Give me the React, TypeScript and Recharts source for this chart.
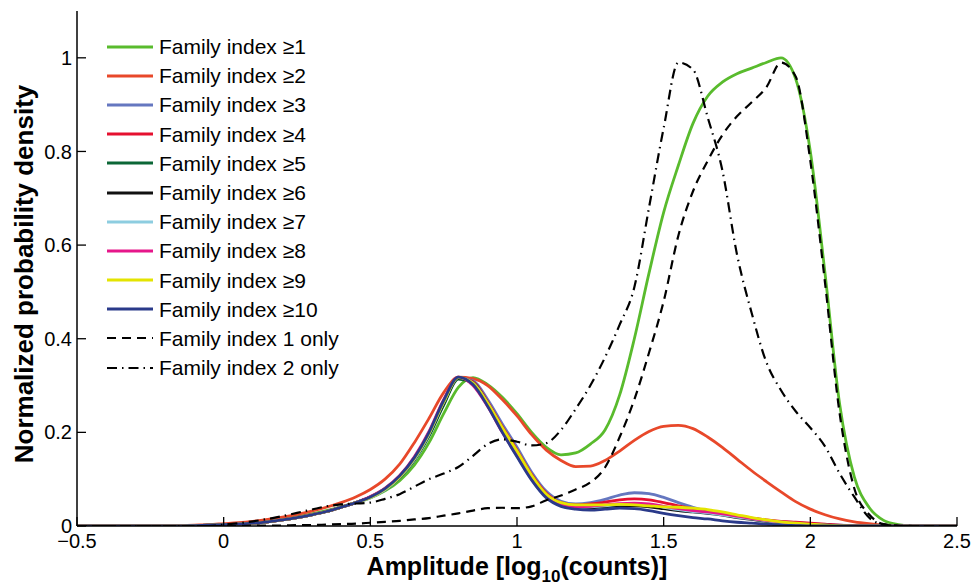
import { LineChart, Line, XAxis, YAxis, Legend } from 'recharts'

const FONT = '"Liberation Sans", Arial, Helvetica, sans-serif'

// amplitude grid, log10(counts)
const amplitude = [
  -0.5, -0.45, -0.4, -0.35, -0.3, -0.25, -0.2, -0.15, -0.1, -0.05,
  0, 0.05, 0.1, 0.15, 0.2, 0.25, 0.3, 0.35, 0.4, 0.45,
  0.5, 0.55, 0.6, 0.65, 0.7, 0.75, 0.8, 0.85, 0.9, 0.95,
  1.0, 1.05, 1.1, 1.15, 1.2, 1.25, 1.3, 1.35, 1.4, 1.45,
  1.5, 1.55, 1.6, 1.65, 1.7, 1.75, 1.8, 1.85, 1.9, 1.95,
  2.0, 2.05, 2.1, 2.15, 2.2, 2.25, 2.3, 2.35, 2.4, 2.45,
  2.5,
]

const fam1 = [
  0, 0, 0, 0, 0, 0, 0, 0, 0.001, 0.002,
  0.003, 0.005, 0.008, 0.011, 0.015, 0.02, 0.026, 0.033, 0.041, 0.05,
  0.06, 0.075, 0.097, 0.13, 0.178, 0.24, 0.296, 0.317, 0.302, 0.275,
  0.24, 0.2, 0.168, 0.152, 0.156, 0.175, 0.205, 0.28, 0.4, 0.54,
  0.67, 0.77, 0.86, 0.918, 0.948, 0.966, 0.978, 0.99, 1.0, 0.955,
  0.8, 0.54, 0.26, 0.105, 0.04, 0.012, 0.003, 0, 0, 0,
  0,
]
const fam2 = [
  0, 0, 0, 0, 0, 0, 0, 0.001, 0.002, 0.003,
  0.005, 0.007, 0.01, 0.014, 0.019, 0.025, 0.032, 0.04, 0.05, 0.062,
  0.078, 0.1, 0.132, 0.178, 0.23, 0.285, 0.318, 0.315, 0.3, 0.27,
  0.235, 0.195, 0.162, 0.14, 0.127, 0.128, 0.14, 0.16, 0.183, 0.202,
  0.213, 0.215, 0.208, 0.19, 0.168, 0.143, 0.118, 0.095, 0.073, 0.052,
  0.036, 0.024, 0.015, 0.009, 0.005, 0.002, 0.001, 0, 0, 0,
  0,
]
const fam3 = [
  0, 0, 0, 0, 0, 0, 0, 0, 0.001, 0.002,
  0.003, 0.004, 0.006, 0.009, 0.013, 0.018, 0.024, 0.031, 0.04, 0.05,
  0.062, 0.08, 0.106, 0.143, 0.195, 0.26, 0.315, 0.31, 0.27, 0.218,
  0.168, 0.115, 0.074, 0.053, 0.047, 0.05, 0.057, 0.066, 0.071, 0.069,
  0.061, 0.05, 0.04, 0.032, 0.026, 0.021, 0.016, 0.012, 0.009, 0.007,
  0.005, 0.003, 0.002, 0.001, 0, 0, 0, 0, 0, 0,
  0,
]
const fam4 = [
  0, 0, 0, 0, 0, 0, 0, 0, 0.001, 0.002,
  0.003, 0.004, 0.006, 0.009, 0.013, 0.018, 0.024, 0.031, 0.04, 0.05,
  0.062, 0.079, 0.105, 0.142, 0.195, 0.262, 0.316, 0.308, 0.265, 0.212,
  0.162, 0.11, 0.07, 0.05, 0.045, 0.047, 0.051, 0.056, 0.058, 0.056,
  0.05, 0.043, 0.037, 0.031, 0.026, 0.021, 0.017, 0.013, 0.01, 0.008,
  0.006, 0.004, 0.002, 0.001, 0, 0, 0, 0, 0, 0,
  0,
]
const fam5 = [
  0, 0, 0, 0, 0, 0, 0, 0, 0.001, 0.002,
  0.003, 0.004, 0.006, 0.009, 0.013, 0.018, 0.024, 0.031, 0.04, 0.05,
  0.062, 0.078, 0.103, 0.14, 0.192, 0.258, 0.314, 0.306, 0.262, 0.208,
  0.158, 0.106, 0.066, 0.046, 0.04, 0.04, 0.042, 0.045, 0.046, 0.044,
  0.04, 0.036, 0.033, 0.03, 0.026, 0.021, 0.016, 0.012, 0.008, 0.005,
  0.003, 0.002, 0.001, 0, 0, 0, 0, 0, 0, 0,
  0,
]
const fam6 = [
  0, 0, 0, 0, 0, 0, 0, 0, 0.001, 0.002,
  0.003, 0.004, 0.006, 0.009, 0.013, 0.018, 0.024, 0.031, 0.04, 0.05,
  0.061, 0.078, 0.104, 0.142, 0.195, 0.262, 0.316, 0.305, 0.26, 0.205,
  0.156, 0.104, 0.064, 0.045, 0.039, 0.039, 0.041, 0.043, 0.043, 0.041,
  0.037, 0.033, 0.03, 0.027, 0.023, 0.018, 0.014, 0.01, 0.007, 0.005,
  0.003, 0.002, 0.001, 0, 0, 0, 0, 0, 0, 0,
  0,
]
const fam7 = [
  0, 0, 0, 0, 0, 0, 0, 0, 0.001, 0.002,
  0.003, 0.004, 0.006, 0.009, 0.013, 0.018, 0.024, 0.031, 0.04, 0.05,
  0.06, 0.077, 0.104, 0.142, 0.196, 0.264, 0.317, 0.305, 0.262, 0.207,
  0.157, 0.105, 0.065, 0.046, 0.04, 0.041, 0.043, 0.046, 0.047, 0.045,
  0.04, 0.035, 0.031, 0.028, 0.024, 0.019, 0.015, 0.011, 0.008, 0.005,
  0.003, 0.002, 0.001, 0, 0, 0, 0, 0, 0, 0,
  0,
]
const fam8 = [
  0, 0, 0, 0, 0, 0, 0, 0, 0.001, 0.002,
  0.003, 0.004, 0.006, 0.009, 0.013, 0.018, 0.024, 0.031, 0.04, 0.05,
  0.063, 0.081, 0.108, 0.148, 0.202, 0.27, 0.318, 0.3, 0.255, 0.2,
  0.15, 0.1, 0.063, 0.046, 0.041, 0.042, 0.045, 0.048, 0.049, 0.047,
  0.042, 0.037, 0.033, 0.03, 0.026, 0.021, 0.016, 0.012, 0.009, 0.006,
  0.004, 0.002, 0.001, 0, 0, 0, 0, 0, 0, 0,
  0,
]
const fam9 = [
  0, 0, 0, 0, 0, 0, 0, 0, 0.001, 0.002,
  0.003, 0.004, 0.006, 0.009, 0.013, 0.018, 0.024, 0.031, 0.04, 0.05,
  0.061, 0.079, 0.105, 0.144, 0.198, 0.265, 0.317, 0.305, 0.262, 0.21,
  0.16, 0.108, 0.068, 0.05, 0.045, 0.045, 0.045, 0.046, 0.045, 0.043,
  0.041, 0.04, 0.038, 0.035, 0.03, 0.024, 0.018, 0.013, 0.009, 0.006,
  0.004, 0.002, 0.001, 0, 0, 0, 0, 0, 0, 0,
  0,
]
const fam10 = [
  0, 0, 0, 0, 0, 0, 0, 0, 0.001, 0.002,
  0.003, 0.004, 0.006, 0.009, 0.013, 0.018, 0.024, 0.031, 0.04, 0.05,
  0.062, 0.08, 0.107, 0.146, 0.2, 0.268, 0.318, 0.302, 0.256, 0.2,
  0.148, 0.098, 0.06, 0.042, 0.036, 0.034, 0.036, 0.038, 0.037, 0.033,
  0.027, 0.022, 0.018, 0.015, 0.011, 0.008, 0.006, 0.004, 0.002, 0.001,
  0, 0, 0, 0, 0, 0, 0, 0, 0, 0,
  0,
]
const only1 = [
  0, 0, 0, 0, 0, 0, 0, 0, 0, 0,
  0, 0, 0.001, 0.001, 0.001, 0.002, 0.002, 0.003, 0.004, 0.005,
  0.007, 0.009, 0.011, 0.014, 0.017, 0.022, 0.027, 0.033, 0.038, 0.039,
  0.038, 0.042, 0.055, 0.065, 0.078, 0.093, 0.125, 0.19, 0.27, 0.37,
  0.48, 0.62, 0.715, 0.78, 0.835, 0.875, 0.905, 0.937, 0.99, 0.96,
  0.78, 0.52, 0.24, 0.08, 0.025, 0.004, 0.001, 0, 0, 0,
  0,
]
const only2 = [
  0, 0, 0, 0, 0, 0, 0, 0, 0, 0,
  0.003, 0.006, 0.01, 0.015, 0.021, 0.028, 0.035, 0.042, 0.046, 0.048,
  0.05, 0.058, 0.068, 0.084, 0.1, 0.112, 0.126, 0.15, 0.175, 0.185,
  0.18, 0.172, 0.177, 0.205, 0.25, 0.3, 0.36, 0.43, 0.51, 0.68,
  0.85, 0.99, 0.975, 0.873, 0.76, 0.58, 0.455, 0.35, 0.29, 0.245,
  0.21, 0.17, 0.112, 0.062, 0.018, 0.003, 0, 0, 0, 0,
  0,
]

const xTicks = [-0.5, 0, 0.5, 1, 1.5, 2, 2.5]
const yTicks = [0, 0.2, 0.4, 0.6, 0.8, 1]

const series = [
  { key: 'f1', name: 'Family index \u22651', color: '#59bb2d', values: fam1 },
  { key: 'f2', name: 'Family index \u22652', color: '#e8482a', values: fam2 },
  { key: 'f3', name: 'Family index \u22653', color: '#6577c0', values: fam3 },
  { key: 'f4', name: 'Family index \u22654', color: '#e5102f', values: fam4 },
  { key: 'f5', name: 'Family index \u22655', color: '#0b6736', values: fam5 },
  { key: 'f6', name: 'Family index \u22656', color: '#111111', values: fam6 },
  { key: 'f7', name: 'Family index \u22657', color: '#8dcde0', values: fam7 },
  { key: 'f8', name: 'Family index \u22658', color: '#e6168a', values: fam8 },
  { key: 'f9', name: 'Family index \u22659', color: '#e4e400', values: fam9 },
  { key: 'f10', name: 'Family index \u226510', color: '#2a3a8a', values: fam10 },
  { key: 'o1', name: 'Family index 1 only', color: '#000000', values: only1, dash: '9 6' },
  { key: 'o2', name: 'Family index 2 only', color: '#000000', values: only2, dash: '10 5 1.5 5' },
]

const data = amplitude.map((x, i) => {
  const row: any = { x }
  series.forEach((s) => { row[s.key] = s.values[i] })
  return row
})

const fmtX = (v: number) => (v < 0 ? '\u2212' + Math.abs(v) : String(v))

const renderLegend = () => (
  <div style={{ fontFamily: FONT, fontSize: 21, color: '#000', lineHeight: 1 }}>
    {series.map((s) => (
      <div key={s.key} style={{ display: 'flex', alignItems: 'center', height: 29.2 }}>
        <svg width={52} height={10} style={{ flex: 'none' }}>
          <line x1={0} y1={5} x2={46} y2={5} stroke={s.color}
            strokeWidth={s.dash ? 2.2 : 3} strokeDasharray={s.dash} />
        </svg>
        <span style={{ whiteSpace: 'nowrap' }}>{s.name}</span>
      </div>
    ))}
  </div>
)

const XLabel = (props: any) => {
  const vb = props.viewBox
  return (
    <text x={vb.x + vb.width / 2} y={575} textAnchor="middle"
      fontFamily={FONT} fontSize={25} fontWeight="bold" fill="#000">
      Amplitude [log<tspan dy={7} fontSize={17}>10</tspan><tspan dy={-7}>(counts)]</tspan>
    </text>
  )
}

const YLabel = () => {
  const cx = 24
  const cy = 274
  return (
    <text x={cx} y={cy} dy={9} transform={`rotate(-90, ${cx}, ${cy})`} textAnchor="middle"
      fontFamily={FONT} fontSize={26} fontWeight="bold" fill="#000">
      Normalized probability density
    </text>
  )
}

const noTick = () => <g />

export default function App() {
  return (
    <div style={{ position: 'absolute', left: 0, top: 0, background: '#fff' }}>
      <LineChart width={975} height={586} data={data}
        margin={{ top: 11, right: 18, left: 0, bottom: 0 }}>
        <XAxis dataKey="x" type="number" domain={[-0.5, 2.5]} ticks={xTicks} interval={0}
          allowDataOverflow height={60} tickSize={-9} tickMargin={17}
          tickFormatter={fmtX}
          axisLine={{ stroke: '#000', strokeWidth: 1.5 }} tickLine={{ stroke: '#000', strokeWidth: 1.3 }}
          tick={{ fontFamily: FONT, fontSize: 20, fill: '#000' }}
          label={{ content: XLabel }} />
        <XAxis xAxisId="top" orientation="top" dataKey="x" type="number" domain={[-0.5, 2.5]}
          ticks={xTicks} interval={0} allowDataOverflow height={0} tickSize={-9} tick={noTick}
          axisLine={{ stroke: '#000', strokeWidth: 1.5 }} tickLine={{ stroke: '#000', strokeWidth: 1.3 }} />
        <YAxis type="number" domain={[0, 1.1]} ticks={yTicks} interval={0} allowDataOverflow
          width={77} tickSize={-9} tickMargin={14}
          axisLine={{ stroke: '#000', strokeWidth: 1.5 }} tickLine={{ stroke: '#000', strokeWidth: 1.3 }}
          tick={{ fontFamily: FONT, fontSize: 20, fill: '#000' }}
          label={{ content: YLabel }} />
        <YAxis yAxisId="right" orientation="right" type="number" domain={[0, 1.1]} ticks={yTicks}
          interval={0} allowDataOverflow width={0} tickSize={-9} tick={noTick}
          axisLine={{ stroke: '#000', strokeWidth: 1.5 }} tickLine={{ stroke: '#000', strokeWidth: 1.3 }} />
        <Legend layout="vertical" align="center" verticalAlign="middle" content={renderLegend}
          wrapperStyle={{ left: 107, top: 32, width: 'auto' }} />
        {series.map((s) => (
          <Line key={s.key} dataKey={s.key} name={s.name} type="monotone" stroke={s.color}
            strokeWidth={s.dash ? 2.2 : 2.8} strokeDasharray={s.dash} dot={false} activeDot={false}
            isAnimationActive={false} />
        ))}
      </LineChart>
    </div>
  )
}
